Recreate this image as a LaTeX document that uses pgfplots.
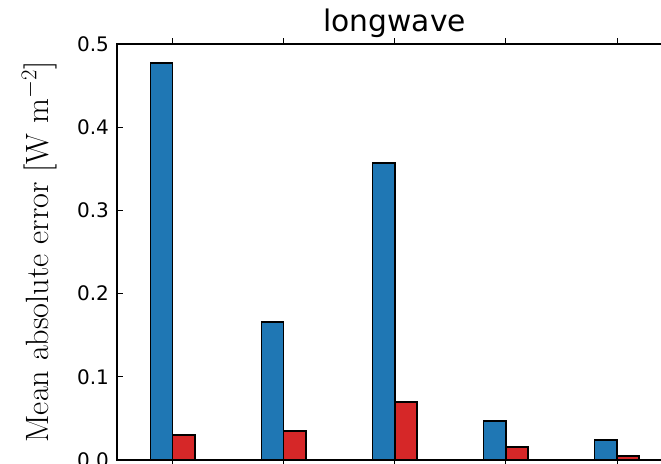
\documentclass[border=0pt]{standalone}
\usepackage{pgfplots}
\pgfplotsset{compat=1.18}
\usepackage{fontspec}
\newfontfamily\dejavu{DejaVu Sans}

\definecolor{mplblue}{HTML}{1F77B4}
\definecolor{mplred}{HTML}{D62728}

\begin{document}
\begin{tikzpicture}
  \begin{axis}[
    name=ax,
    scale only axis,
    width=416.6pt,
    height=312pt,
    xmin=-0.5, xmax=4.5,
    ymin=0, ymax=0.5,
    xtick={0,1,2,3,4},
    xticklabels={},
    ytick={0,0.1,0.2,0.3,0.4,0.5},
    yticklabel style={/pgf/number format/fixed, /pgf/number format/fixed zerofill,
      /pgf/number format/precision=1, font=\dejavu\fontsize{15}{18}\selectfont, xshift=-2.5pt},
    /pgf/number format/assume math mode=true,
    tick align=inside,
    major tick length=4.5pt,
    tick style={black, line width=0.6pt},
    axis line style={line width=0.9pt},
    title={longwave},
    title style={font=\dejavu\fontsize{22.3}{26}\selectfont, anchor=base, at={(0.5,1)}, yshift=3.2pt},
    ylabel={$\mathrm{Mean\ absolute\ error\ [W\ m^{-2}]}$},
    every axis y label/.style={at={(rel axis cs:0,0.5)}, rotate=90, anchor=center,
      yshift=58.5pt, font=\fontsize{24.2}{28}\selectfont},
    ybar,
    bar width=0.2,
  ]
    % full model
    \addplot[fill=mplblue, draw=black, line width=1.2pt, bar shift=-0.1] coordinates {
      (0, 0.4775)
      (1, 0.166)
      (2, 0.357)
      (3, 0.047)
      (4, 0.024)
    };
    % reduced model
    \addplot[fill=mplred, draw=black, line width=1.2pt, bar shift=0.1] coordinates {
      (0, 0.030)
      (1, 0.0345)
      (2, 0.070)
      (3, 0.0153)
      (4, 0.005)
    };
  \end{axis}
  \pgfresetboundingbox
  \path ([xshift=-87.75pt, yshift=-3pt]ax.south west) rectangle ([xshift=408pt, yshift=33pt]ax.north west);
\end{tikzpicture}
\end{document}
